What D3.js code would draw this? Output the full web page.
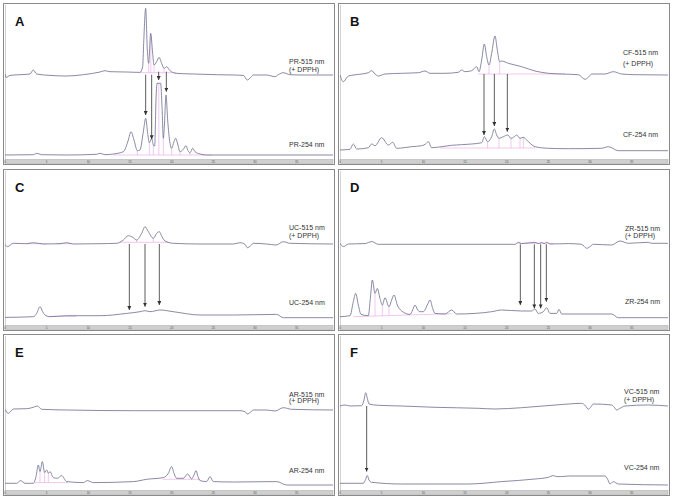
<!DOCTYPE html>
<html>
<head>
<meta charset="utf-8">
<script src="https://cdn.jsdelivr.net/npm/d3@7"></script>
<style>
body { margin: 0; background: #fff; }
svg { display: block; font-family: "Liberation Sans", Arial, sans-serif; }
.trace { fill: none; stroke: #6c6c8e; stroke-width: 0.8; }
.pink { stroke: #e8a2e4; stroke-width: 0.6; fill: none; }
.arrow { stroke: #333; stroke-width: 0.8; }
.trace-label { font-size: 7px; fill: #333; }
.panel-letter { font-size: 13px; font-weight: bold; fill: #111; }
.tick-label { font-size: 3px; fill: #555; }
</style>
</head>
<body>
<svg width="674" height="499"></svg>
<script>
// retention time (min), signal
var timeTicks = [0, 5, 10, 15, 20, 25, 30, 35];
var letters = ['A', 'B', 'C', 'D', 'E', 'F'];
var samples = ['PR', 'CF', 'UC', 'ZR', 'AR', 'VC'];

var prTop = [[0,0.7],[0.12,-2.7],[0.6,-0.7],[1.8,0],[3.0,0.7],[3.4,4.7],[3.8,0.7],[5.4,-0.7],[7.4,-1.3],[9.4,0],
  [11.4,2.7],[12.0,4],[12.6,3],[14.6,2.7],[16.2,2.3],[16.52,8],[16.64,31.3],[16.88,66.3],[17.08,24.7],[17.24,11.3],
  [17.48,41.3],[17.72,21.3],[17.88,9.7],[18.2,13],[18.48,17.3],[18.8,11.3],[19.08,6.3],[19.4,8],[19.8,4],[20.6,1.3],
  [22.6,0.7],[25.4,0],[27.4,-0.3],[28.6,-0.7],[29.08,-5.3],[29.48,-2.7],[29.8,-0.3],[31.4,-0.3],[32.4,-2],[32.8,0],
  [33.4,2],[34.2,0],[35.4,-0.3],[39.4,-0.3]];
var prBottom = [[0,0],[3.4,0.3],[3.8,1.7],[4.4,0.3],[7.4,0],[11.0,0.7],[11.4,1.7],[12.0,0.3],[13.0,1],[14.2,3.3],
  [14.8,15],[15.12,23.3],[15.48,15],[15.88,4.3],[16.2,5],[16.6,23.3],[16.88,36.7],[17.12,21.7],[17.32,12.3],[17.6,16.7],
  [17.8,10],[17.96,9],[18.12,55],[18.24,71.7],[18.68,71.7],[18.84,48.3],[19.0,16.7],[19.12,28.3],[19.32,60],[19.52,35],
  [19.8,11.7],[20.0,6.7],[20.28,13.3],[20.48,16.7],[20.72,11],[21.0,3.3],[21.4,5.7],[21.72,9.3],[21.96,4.3],[22.2,2.3],
  [22.52,6.7],[22.8,3.3],[23.4,1],[24.2,0],[39.4,0]];

var cfTop = [[0,-1],[0.4,-7.7],[1.0,-2],[2.6,0],[3.4,1.3],[3.8,3.3],[4.2,0],[4.6,-2],[5.4,0],[7.4,0.7],[9.4,1.3],
  [10.2,3],[10.8,0.7],[12.6,0.7],[14.2,1.7],[14.6,4],[15.0,2.3],[15.8,3.3],[16.4,7.3],[16.68,2.3],[17.0,14],[17.32,30],
  [17.6,17.3],[17.88,9],[18.2,20.7],[18.6,38],[18.88,24],[19.16,12.3],[19.4,13],[20.2,10.7],[21.8,7.3],[23.4,3],
  [25.0,0.7],[26.6,0],[28.6,-0.7],[29.4,-5.3],[29.8,-3.3],[30.2,0],[31.8,0],[32.8,2.3],[33.8,0],[35.4,-0.7],[39.4,-1]];
var cfBottom = [[0,0],[1.2,0.7],[1.6,6],[2.0,1],[3.4,2.3],[3.8,6],[4.2,4.3],[5.0,12.3],[5.8,5],[6.32,7.7],[6.8,1.7],
  [8.6,3.3],[9.8,4.3],[10.28,6],[10.6,8.3],[11.0,2.3],[12.2,3.3],[13.4,4.7],[14.6,5.3],[15.8,6],[17.0,7.3],[17.32,13.3],
  [17.72,8.3],[18.2,13.3],[18.52,21],[18.8,15],[19.08,11.7],[19.6,13.3],[20.12,15],[20.52,11.7],[20.92,13.3],[21.2,15],
  [21.6,11.7],[22.0,12.7],[22.4,10],[23.4,3.3],[25.0,1.7],[27.4,1.3],[31.4,1.7],[32.2,3.3],[33.4,-0.7],[39.4,-0.7]];

var ucTop = [[0,-0.3],[0.28,-2.7],[1.0,0.7],[2.6,0.3],[3.4,1.3],[4.6,0],[6.6,0.3],[7.4,1.3],[8.2,0],[11.4,0.3],
  [13.4,0.7],[14.2,4],[14.8,8.3],[15.4,6.3],[15.8,4],[16.4,10.7],[16.8,17.3],[17.2,12.3],[17.8,5.7],[18.2,10.7],
  [18.52,12.3],[18.84,7.3],[19.2,3],[20.2,0.7],[23.4,0],[27.4,0],[28.2,1.3],[28.8,-0.3],[29.08,-3.7],[29.48,-1.7],
  [29.8,0.7],[31.4,0],[32.52,-1],[33.4,2.3],[34.2,0.7],[39.4,0]];
var ucBottom = [[0,-0.7],[3.4,0],[3.8,3.3],[4.2,10],[4.52,5],[4.8,1.7],[5.4,0],[7.4,1],[11.4,1],[14.6,3.3],[16.2,5],
  [16.8,6],[17.4,5],[18.6,6.7],[20.2,5],[23.4,1.7],[27.4,1.7],[32.6,2.3],[33.4,-1],[39.4,-1]];

var zrTop = [[0,1],[0.4,-2.3],[1.0,0.3],[3.0,0.7],[3.8,2.7],[4.6,0],[11.4,0],[21.0,0],[21.4,2],[21.8,0.7],[23.4,2],
  [23.8,0.7],[24.2,1.7],[24.52,0.7],[24.8,2],[25.2,0.3],[27.4,0.7],[29.0,0],[29.6,-4],[30.0,-2.3],[30.4,0],[32.6,-0.7],
  [33.6,3.3],[34.6,1],[37.0,2],[37.4,1],[39.4,1]];
var zrBottom = [[0,0],[1.2,1],[1.6,15],[1.88,23.3],[2.2,11.7],[2.52,2.3],[3.4,1],[3.64,18.3],[3.88,36.7],[4.2,23.3],
  [4.48,28.3],[4.8,18.3],[5.08,11.7],[5.4,19],[5.88,10],[6.2,16.7],[6.48,21.7],[6.88,11.7],[7.4,5.7],[8.4,2.3],[8.72,6.7],
  [9.0,11.7],[9.32,6.7],[9.6,5],[10.0,5],[10.48,11.7],[10.8,16.7],[11.12,8.3],[11.4,3.3],[12.6,2.7],[13.4,6.7],[14.0,2.7],
  [16.2,3.3],[18.2,5],[19.4,6.7],[21.8,5.7],[23.0,5.7],[23.4,7.7],[23.8,3.3],[24.4,5],[24.8,9],[25.2,3.3],[26.0,3.3],
  [26.28,7.3],[26.6,2.7],[32.6,2.7],[33.4,-1],[39.4,-1]];

var arTop = [[0,0.7],[0.4,-3.3],[1.0,1],[2.6,1.3],[3.4,2.7],[3.88,4],[4.4,0.7],[7.4,0],[15.4,-0.7],[23.4,-0.7],
  [28.2,-0.7],[28.8,-1.7],[29.08,-4],[29.48,-2],[29.8,0],[31.4,0],[32.4,-1],[33.4,2.3],[34.4,0.7],[39.4,0]];
var arBottom = [[0,0],[1.4,0],[1.88,2.7],[2.4,0],[3.4,0],[3.72,6.7],[4.0,18.3],[4.2,11.7],[4.48,21.7],[4.76,10.7],
  [5.0,13.3],[5.2,10],[5.4,11.7],[5.8,5.7],[6.28,5],[6.8,7.7],[7.4,1.7],[9.4,0.7],[9.88,2.7],[10.6,0.7],[15.4,1.7],
  [17.0,4],[19.0,5.7],[19.6,10],[20.0,16.7],[20.28,10],[20.6,5],[21.4,5],[21.92,9.3],[22.4,4.3],[22.68,8.3],[22.92,12.7],
  [23.16,6.7],[23.4,2.7],[24.2,1.7],[24.6,6.7],[25.0,1.7],[27.4,1.3],[32.6,1.7],[33.8,-1.7],[39.4,-1.7]];

var vcTop = [[0,0],[0.6,1],[1.2,0],[2.6,0.3],[2.88,6],[3.08,13.3],[3.28,7.7],[3.48,2],[4.6,0.7],[7.4,0],[11.4,-1.3],
  [16.6,-2.3],[18.6,-3],[21.8,-1.7],[27.4,2],[29.0,2.7],[29.48,0],[29.8,-3.3],[30.12,-0.7],[30.4,2],[32.6,1],
  [32.92,-1.3],[33.2,-4],[33.6,-2.3],[34.2,0],[37.0,1],[39.4,0]];
var vcBottom = [[0,0],[2.8,0],[3.08,4],[3.28,7.7],[3.48,3.3],[3.8,1],[7.4,-0.7],[15.4,-0.7],[19.4,1.7],[23.4,4.3],
  [25.0,6],[25.6,7.7],[26.0,6.7],[26.6,6.7],[27.4,7.3],[31.8,7.3],[32.12,4],[32.4,-0.7],[32.8,1.7],[33.4,-0.7],[39.4,-1.7]];

// arrows: [time, start on 515 trace, tip above 254 trace]
var prArrows = [[16.88,0,40],[17.6,0,15.7],[18.44,3,75],[19.36,3,63.3]];
var cfArrows = [[17.28,0,15],[18.52,0,24],[20.08,0,18.3]];
var ucArrows = [[14.92,0,6.7],[16.8,0,10],[18.52,0,11.7]];
var zrArrows = [[21.64,0,11.7],[23.32,0,8.3],[24.08,0,8.3],[24.76,0,15]];
var arArrows = [];
var vcArrows = [[3.2,0,11.7]];

// integration baselines [t0, v0, t1, v1] and drop lines [t, vLow, vHigh]
var prPink = {top: {segs: [[16.2,2,20.6,2]], drops: [[17.24,2,11.3],[17.5,2,41.3],[17.88,2,9.7],[19.08,2,6.3]]},
  bottom: {segs: [[13.0,0,24.8,0]], drops: [[15.88,0,4.3],[17.32,0,12.3],[17.8,0,10],[18.46,0,71.7],[19.0,0,16.7],[20.0,0,6.7],[21.0,0,3.3],[22.2,0,2.3]]}};
var cfPink = {top: {segs: [[16.6,0,27.0,0]], drops: [[17.88,0,9],[19.16,0,12.3]]},
  bottom: {segs: [[12.0,2,23.4,2]], drops: [[17.72,2,8.3],[19.08,2,11.7],[20.52,2,11.7],[21.6,2,11.7],[22.0,2,12.7]]}};
var ucPink = {top: {segs: [[13.8,1.7,19.6,1.7],[2.6,0.3,5.0,0.3],[6.2,0.3,8.0,0.3]], drops: [[15.8,1.7,4],[17.8,1.7,5.7]]},
  bottom: {segs: [[5.0,0.3,8.6,0.3]], drops: []}};
var zrPink = {top: {segs: [[21.2,1,25.6,1]], drops: []},
  bottom: {segs: [[1.6,0,13.4,3]], drops: [[4.2,0.7,23.3],[5.08,0.9,11.7],[5.88,1.1,10]]}};
var arPink = {top: {segs: [], drops: []},
  bottom: {segs: [[3.6,0.7,7.6,0.7],[18.9,4,23.4,4]], drops: [[4.2,0.7,11.7],[4.76,0.7,10.7],[5.2,0.7,10],[21.4,4,5],[22.4,4,4.3]]}};
var vcPink = {top: {segs: [], drops: []}, bottom: {segs: [], drops: []}};

var topTraces = [prTop, cfTop, ucTop, zrTop, arTop, vcTop];
var bottomTraces = [prBottom, cfBottom, ucBottom, zrBottom, arBottom, vcBottom];
var arrowSets = [prArrows, cfArrows, ucArrows, zrArrows, arArrows, vcArrows];
var pinkSets = [prPink, cfPink, ucPink, zrPink, arPink, vcPink];

// layout (panel-relative pixels)
var svg = d3.select('svg');
var panelW = 331, panelH = 161;
var colX = [3, 338], rowY = [3, 169, 334];
var layout = [
  {topBase: 71.7, botBase: 152,   lx: 286, l1: 61, l2: 68.5, l3: 143.5},
  {topBase: 71,   botBase: 147,   lx: 285, l1: 52, l2: 63,   l3: 134},
  {topBase: 75,   botBase: 147.7, lx: 286, l1: 61, l2: 68.5, l3: 136},
  {topBase: 75.3, botBase: 147.7, lx: 287, l1: 62, l2: 69,   l3: 135},
  {topBase: 76,   botBase: 149.3, lx: 286, l1: 62.7, l2: 69, l3: 139},
  {topBase: 72,   botBase: 149.3, lx: 286, l1: 60, l2: 67.7, l3: 136}
];

var defs = svg.append('defs');
defs.append('marker')
  .attr('id', 'head')
  .attr('markerUnits', 'userSpaceOnUse')
  .attr('viewBox', '0 0 10 10')
  .attr('refX', 10).attr('refY', 5)
  .attr('markerWidth', 4).attr('markerHeight', 4)
  .attr('orient', 'auto')
  .append('path')
  .attr('d', 'M0,0L10,5L0,10Z')
  .attr('fill', '#333');

letters.forEach(function(letter, i) {
  var px = colX[i % 2], py = rowY[Math.floor(i / 2)];
  var L = layout[i];
  var g = svg.append('g').attr('transform', 'translate(' + [px, py] + ')');

  var x = d3.scaleLinear().domain([0, 39.3]).range([2, 329.5]);
  var yTop = d3.scaleLinear().domain([0, 100]).range([L.topBase, L.topBase - 100]);
  var yBot = d3.scaleLinear().domain([0, 100]).range([L.botBase, L.botBase - 100]);

  g.append('rect')
    .attr('x', 0.5).attr('y', 0.5)
    .attr('width', panelW).attr('height', panelH)
    .attr('fill', '#fff').attr('stroke', '#8a8a8a').attr('stroke-width', 1);
  g.append('line')
    .attr('x1', 2.5).attr('x2', 2.5).attr('y1', 2).attr('y2', 157)
    .attr('stroke', '#c8c8c8').attr('stroke-width', 0.8);

  var clipId = 'clip' + i;
  defs.append('clipPath').attr('id', clipId)
    .append('rect').attr('x', 2).attr('y', 1).attr('width', 328).attr('height', 155);
  var plot = g.append('g').attr('clip-path', 'url(#' + clipId + ')');

  // integration marks
  [[pinkSets[i].top, yTop], [pinkSets[i].bottom, yBot]].forEach(function(p) {
    var set = p[0], y = p[1];
    plot.selectAll(null).data(set.segs).enter().append('line')
      .attr('class', 'pink')
      .attr('x1', function(d) { return x(d[0]); })
      .attr('y1', function(d) { return y(d[1]); })
      .attr('x2', function(d) { return x(d[2]); })
      .attr('y2', function(d) { return y(d[3]); });
    plot.selectAll(null).data(set.drops).enter().append('line')
      .attr('class', 'pink')
      .attr('x1', function(d) { return x(d[0]); })
      .attr('x2', function(d) { return x(d[0]); })
      .attr('y1', function(d) { return y(d[1]); })
      .attr('y2', function(d) { return y(d[2]); });
  });

  var lineTop = d3.line().curve(d3.curveMonotoneX)
    .x(function(d) { return x(d[0]); }).y(function(d) { return yTop(d[1]); });
  var lineBot = d3.line().curve(d3.curveMonotoneX)
    .x(function(d) { return x(d[0]); }).y(function(d) { return yBot(d[1]); });

  plot.append('path').datum(topTraces[i]).attr('class', 'trace').attr('d', lineTop);
  plot.append('path').datum(bottomTraces[i]).attr('class', 'trace').attr('d', lineBot);

  // arrows from the DPPH trace down to the matching 254 nm peak
  g.selectAll('.arrow').data(arrowSets[i]).enter().append('line')
    .attr('class', 'arrow')
    .attr('x1', function(d) { return x(d[0]); })
    .attr('x2', function(d) { return x(d[0]); })
    .attr('y1', function(d) { return yTop(d[1]); })
    .attr('y2', function(d) { return yBot(d[2]); })
    .attr('marker-end', 'url(#head)');

  // time axis strip
  g.append('rect')
    .attr('x', 2).attr('y', 156.5).attr('width', 328).attr('height', 4)
    .attr('fill', '#cfcfcf').attr('stroke', '#a8a8a8').attr('stroke-width', 0.5);
  g.selectAll('.tick-label').data(timeTicks).enter().append('text')
    .attr('class', 'tick-label')
    .attr('x', function(d) { return x(d); })
    .attr('y', 159.8)
    .attr('text-anchor', 'middle')
    .text(function(d) { return d; });

  g.append('text').attr('class', 'panel-letter')
    .attr('x', 12).attr('y', 23).text(letter);
  g.append('text').attr('class', 'trace-label')
    .attr('x', L.lx).attr('y', L.l1).text(samples[i] + '-515 nm');
  g.append('text').attr('class', 'trace-label')
    .attr('x', L.lx).attr('y', L.l2).text('(+ DPPH)');
  g.append('text').attr('class', 'trace-label')
    .attr('x', L.lx).attr('y', L.l3).text(samples[i] + '-254 nm');
});
</script>
</body>
</html>
